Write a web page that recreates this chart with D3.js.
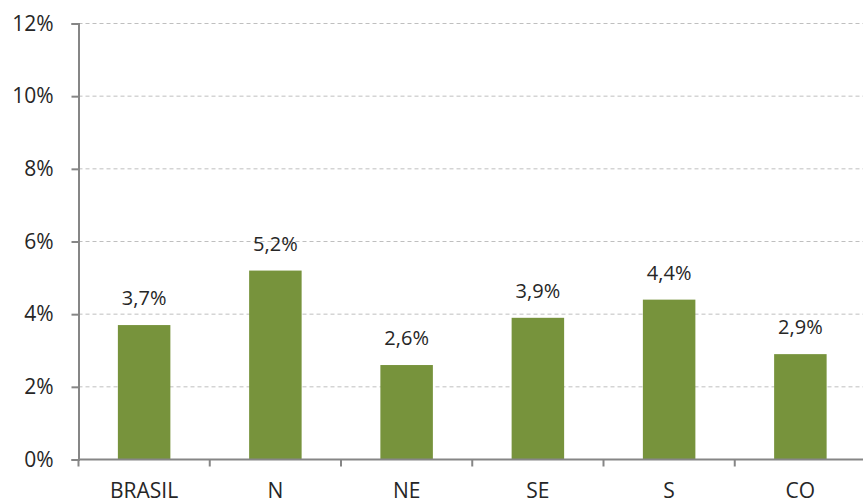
<!DOCTYPE html>
<html>
<head>
<meta charset="utf-8">
<script src="https://cdn.jsdelivr.net/npm/d3@7"></script>
<style>
  body { margin: 0; background: #fff; }
  text { font-family: "Open Sans", "Liberation Sans", sans-serif; fill: #262626; }
  .grid line { stroke: #bfbfbf; stroke-dasharray: 4 3; }
  .axis path, .axis line { stroke: #868686; stroke-width: 2; }
</style>
</head>
<body>
<svg id="chart" width="863" height="504"></svg>
<script>
const regions = ['BRASIL', 'N', 'NE', 'SE', 'S', 'CO'];
const rates = [3.7, 5.2, 2.6, 3.9, 4.4, 2.9];
const yTicks = [0, 2, 4, 6, 8, 10, 12];

const W = 863, H = 504;
const margin = { top: 23.5, right: -3, bottom: 44.5, left: 78.5 };

const svg = d3.select('#chart');
const g = svg.append('g')
  .attr('transform', `translate(${margin.left}, ${margin.top})`);

const innerW = W - margin.left - margin.right,
      innerH = H - margin.top - margin.bottom;

const x = d3.scaleBand()
  .domain(regions)
  .range([0, innerW])
  .paddingInner(0.6)
  .paddingOuter(0.3);

const y = d3.scaleLinear()
  .domain([0, 12])
  .range([innerH, 0]);

// dashed gridlines
g.append('g')
  .classed('grid', true)
  .selectAll('line')
  .data(yTicks.filter((d) => d > 0))
  .enter().append('line')
    .attr('x1', 0)
    .attr('x2', innerW)
    .attr('y1', (d) => y(d))
    .attr('y2', (d) => y(d));

// bars
g.selectAll('.bar')
  .data(regions)
  .enter().append('rect')
    .classed('bar', true)
    .attr('x', (d) => x(d))
    .attr('width', x.bandwidth())
    .attr('y', (d, i) => y(rates[i]))
    .attr('height', (d, i) => innerH - y(rates[i]))
    .attr('fill', '#77933c');

// value labels
g.selectAll('.value')
  .data(regions)
  .enter().append('text')
    .classed('value', true)
    .attr('x', (d) => x(d) + x.bandwidth() / 2)
    .attr('y', (d, i) => y(rates[i]) - 20)
    .attr('text-anchor', 'middle')
    .style('font-size', '20px')
    .text((d, i) => `${rates[i].toFixed(1).replace('.', ',')}%`);

// y axis
const yAxis = g.append('g')
  .classed('axis', true)
  .call(d3.axisLeft(y).tickValues(yTicks).tickSize(7).tickPadding(18).tickFormat((d) => `${d}%`));
yAxis.selectAll('text').style('font-size', '21px').attr('fill', '#262626');

// x axis, tick marks sit between the categories
const xAxis = g.append('g')
  .classed('axis', true)
  .attr('transform', `translate(0, ${innerH})`);

xAxis.append('line')
  .attr('x1', 0).attr('x2', innerW)
  .attr('y1', 0).attr('y2', 0);

const step = x.step();
const start = x(regions[0]) - x.paddingOuter() * step;

xAxis.selectAll('.tick-mark')
  .data(d3.range(regions.length + 1))
  .enter().append('line')
    .attr('x1', (i) => start + i * step)
    .attr('x2', (i) => start + i * step)
    .attr('y1', 0)
    .attr('y2', 7);

xAxis.selectAll('.cat')
  .data(regions)
  .enter().append('text')
    .classed('cat', true)
    .attr('x', (d) => x(d) + x.bandwidth() / 2)
    .attr('y', 38)
    .attr('text-anchor', 'middle')
    .style('font-size', '21px')
    .text((d) => d);
</script>
</body>
</html>
